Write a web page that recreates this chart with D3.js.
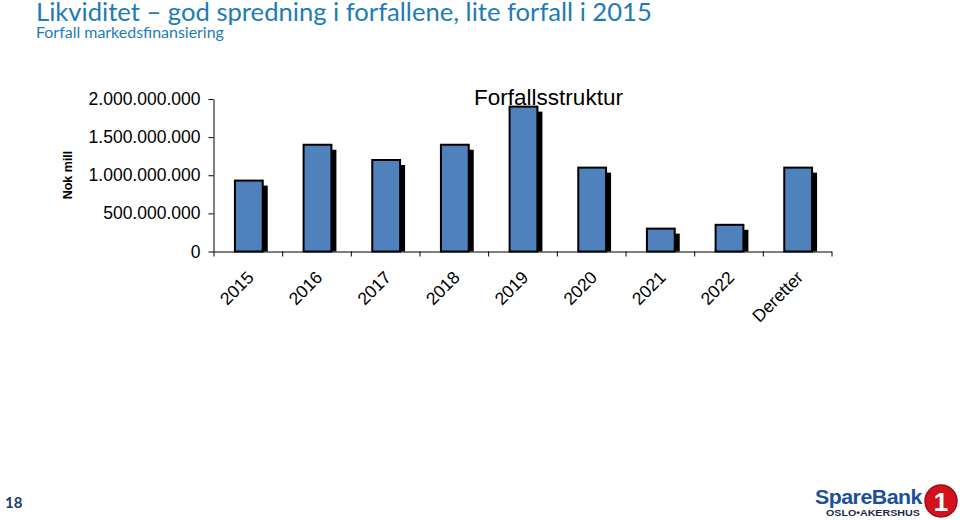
<!DOCTYPE html>
<html>
<head>
<meta charset="utf-8">
<script src="https://cdn.jsdelivr.net/npm/d3@7"></script>
<style>
  html, body { margin: 0; padding: 0; background: #fff; }
  svg { display: block; }
</style>
</head>
<body>
<svg id="chart" width="960" height="520"></svg>
<script>
// ---- data ----
const categories = ["2015", "2016", "2017", "2018", "2019", "2020", "2021", "2022", "Deretter"];
const values = [930000000, 1400000000, 1200000000, 1400000000, 1900000000, 1100000000, 300000000, 350000000, 1100000000];
const yTicks = [0, 500000000, 1000000000, 1500000000, 2000000000];
const headerTitle = "Likviditet – god spredning i forfallene, lite forfall i 2015";
const headerSubtitle = "Forfall markedsfinansiering";
const chartTitle = "Forfallsstruktur";
const yAxisLabel = "Nok mill";
const pageNumber = "18";

const svg = d3.select("#chart");
const headerColor = "#1d7bb6";

function fitFontSize(sel, target) {
  const w = sel.node().getComputedTextLength();
  const fs = parseFloat(sel.attr("font-size"));
  sel.attr("font-size", (fs * target / w).toFixed(2));
}
function fitScaleX(sel, target, x) {
  const w = sel.node().getComputedTextLength();
  const k = target / w;
  sel.attr("transform", `translate(${x},0) scale(${k},1) translate(${-x},0)`);
}

// ---- header ----
const t1 = svg.append("text").attr("x", 36).attr("y", 20.5)
  .attr("font-family", "Lato, 'Open Sans', sans-serif").attr("font-size", 24)
  .attr("fill", headerColor).text(headerTitle);
fitFontSize(t1, 616);
const t2 = svg.append("text").attr("x", 36).attr("y", 38)
  .attr("font-family", "Lato, 'Open Sans', sans-serif").attr("font-size", 15)
  .attr("fill", headerColor).text(headerSubtitle);
fitFontSize(t2, 188);

// ---- chart ----
const x0 = 213.5, x1 = 831.5, yBase = 251.5, yTop = 99;
const xBand = d3.scaleBand().domain(categories).range([x0, x1]).paddingInner(0).paddingOuter(0);
const xEdge = d3.scaleLinear().domain([0, categories.length]).range([x0, x1]);
const y = d3.scaleLinear().domain([0, 2000000000]).range([yBase, yTop]);

const locale = d3.formatLocale({ decimal: ",", thousands: ".", grouping: [3], currency: ["", ""] });
const fmt = locale.format(",d");

const chartFont = "'Liberation Sans', Arial, sans-serif";

// bars
const barW = xBand.bandwidth() * 0.405;
const shadowOff = 5;
const bars = svg.append("g");
bars.selectAll("rect.shadow").data(values).join("rect")
  .attr("class", "shadow")
  .attr("x", (d, i) => xBand(categories[i]) + xBand.bandwidth() / 2 + 1 - barW / 2 + shadowOff)
  .attr("y", d => y(d) + shadowOff)
  .attr("width", barW)
  .attr("height", d => Math.max(0, yBase - y(d) - shadowOff))
  .attr("fill", "#000");
bars.selectAll("rect.bar").data(values).join("rect")
  .attr("class", "bar")
  .attr("x", (d, i) => xBand(categories[i]) + xBand.bandwidth() / 2 + 1 - barW / 2)
  .attr("y", d => y(d))
  .attr("width", barW)
  .attr("height", d => yBase - y(d))
  .attr("fill", "#4f81bd")
  .attr("stroke", "#000")
  .attr("stroke-width", 2);

// y axis
const yAxis = svg.append("g").attr("transform", `translate(${x0},0)`)
  .call(d3.axisLeft(y).tickValues(yTicks).tickFormat(fmt).tickSizeOuter(0).tickSizeInner(5).tickPadding(8));
yAxis.select(".domain").attr("stroke", "#000").attr("stroke-width", 1);
yAxis.selectAll(".tick line").attr("stroke", "#000");
yAxis.selectAll(".tick text").attr("font-family", chartFont).attr("font-size", 17.5).attr("fill", "#000");

// x axis (ticks at category boundaries)
const xAxis = svg.append("g").attr("transform", `translate(0,${yBase})`)
  .call(d3.axisBottom(xEdge).tickValues(d3.range(categories.length + 1)).tickFormat("").tickSizeOuter(0).tickSizeInner(5));
xAxis.select(".domain").attr("stroke", "#000").attr("stroke-width", 1.2);
xAxis.selectAll(".tick line").attr("stroke", "#000");

// x labels rotated
svg.append("g").selectAll("text").data(categories).join("text")
  .attr("transform", d => `translate(${xBand(d) + xBand.bandwidth() / 2 + 7},${yBase + 27}) rotate(-45)`)
  .attr("text-anchor", "end")
  .attr("font-family", chartFont).attr("font-size", 17.5)
  .attr("fill", "#000")
  .text(d => d);

// y axis label
svg.append("text")
  .attr("transform", `translate(72,175) rotate(-90)`)
  .attr("text-anchor", "middle")
  .attr("font-family", chartFont).attr("font-size", 12.5).attr("font-weight", "bold")
  .attr("fill", "#000").text(yAxisLabel);

// chart title
svg.append("text").attr("x", 548.5).attr("y", 105)
  .attr("text-anchor", "middle")
  .attr("font-family", chartFont).attr("font-size", 22.5)
  .attr("fill", "#000").text(chartTitle);

// ---- footer ----
svg.append("text").attr("x", 5).attr("y", 507.5)
  .attr("font-family", "Lato, 'Open Sans', sans-serif").attr("font-size", 15).attr("font-weight", "bold")
  .attr("fill", "#1f3a6e").text(pageNumber);

const logo1 = svg.append("text").attr("x", 815).attr("y", 504)
  .attr("font-family", "'Liberation Sans', Arial, sans-serif").attr("font-size", 21).attr("font-weight", "bold")
  .attr("fill", "#1c4f9c").attr("letter-spacing", -0.5).text("SpareBank");
fitScaleX(logo1, 107, 815);
const logo2 = svg.append("text").attr("x", 826).attr("y", 516.5)
  .attr("font-family", "'Liberation Sans', Arial, sans-serif").attr("font-size", 9).attr("font-weight", "bold")
  .attr("fill", "#1b2a44").text("OSLO•AKERSHUS");
fitScaleX(logo2, 94, 826);
svg.append("circle").attr("cx", 941).attr("cy", 501).attr("r", 16)
  .attr("fill", "#d4121c").attr("stroke", "#9e0b12").attr("stroke-width", 1.5);
svg.append("text").attr("x", 941).attr("y", 510.5).attr("text-anchor", "middle")
  .attr("font-family", "'Liberation Sans', Arial, sans-serif").attr("font-size", 26).attr("font-weight", "bold")
  .attr("fill", "#fff").text("1");
</script>
</body>
</html>
